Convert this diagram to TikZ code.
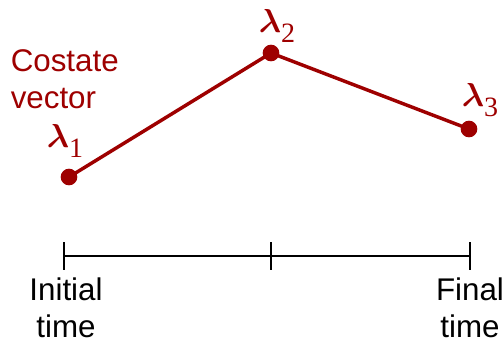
\documentclass[tikz,border=0pt]{standalone}
\usepackage{amsmath}
\usepackage{bm}
\usepackage{fontspec}
\setmainfont{Liberation Sans}
\newfontfamily\subnum{Liberation Serif}
\usetikzlibrary{positioning,calc}
\definecolor{costred}{RGB}{158,0,0}
\newcommand{\lamsub}[1]{$\bm{\lambda}$\raisebox{-0.28em}{\fontsize{21}{21}\selectfont\subnum #1}}

\begin{document}
\begin{tikzpicture}[
  x=0.75pt, y=-0.75pt,
  dot/.style={circle, fill=costred, inner sep=0pt, minimum size=12.5pt},
  lam/.style={text=costred, font=\fontsize{27}{30}\selectfont, inner sep=0pt},
  txt/.style={font=\fontsize{23.5}{27.75}\selectfont, align=center, inner sep=0pt},
]
\useasboundingbox (0,0) rectangle (504,343);
% costate trajectory
\node[dot] (l1) at (69,177) {};
\node[dot] (l2) at (271,53) {};
\node[dot] (l3) at (469,129) {};
\draw[costred, line width=2.6pt] (l1.center) -- (l2.center) -- (l3.center);
\node[lam] (lab1) at (65,141) {\lamsub{1}};
\node[lam] (lab2) at (277,26) {\lamsub{2}};
\node[lam] (lab3) at (480,100) {\lamsub{3}};
\node[txt, text=costred, align=left, anchor=north west] (cv) at (10.5,49.5) {Costate\\vector};
% time axis
\coordinate (t0) at (64,256);
\coordinate (t1) at (271,256);
\coordinate (t2) at (470,256);
\draw[line width=2.2pt] (t0) -- (t2);
\foreach \t in {t0,t1,t2}
  \draw[line width=2.2pt] ($(\t)+(0,-14)$) -- ($(\t)+(0,14)$);
\node[txt, anchor=north] (ti) at (66,277.5) {Initial\\time};
\node[txt, anchor=north] (tf) at (470,277.5) {Final\\time};
\end{tikzpicture}
\end{document}
